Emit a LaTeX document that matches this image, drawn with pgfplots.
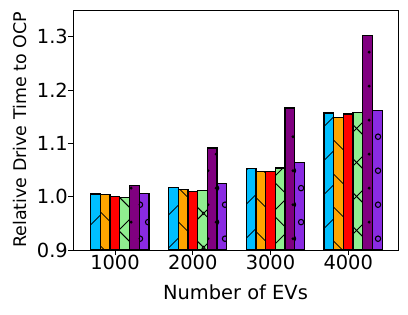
\documentclass[border=0pt]{standalone}
\usepackage{pgfplots}
\pgfplotsset{compat=1.18}
\usepackage{fontspec}
\setmainfont{DejaVu Sans}
\usetikzlibrary{patterns,patterns.meta}
\definecolor{cBlue}{RGB}{0,191,255}
\definecolor{cOrange}{RGB}{255,165,0}
\definecolor{cRed}{RGB}{255,0,0}
\definecolor{cGreen}{RGB}{144,238,144}
\definecolor{cPurple}{RGB}{128,0,128}
\definecolor{cViolet}{RGB}{138,43,226}
\tikzdeclarepattern{name=mydots, type=uncolored,
  bounding box={(0bp,0bp) and (17bp,34bp)}, tile size={(17bp,34bp)},
  code={\fill (4.25bp,8.5bp) circle (1.7bp); \fill (12.75bp,25.5bp) circle (1.7bp);}}
\tikzdeclarepattern{name=myrings, type=uncolored,
  bounding box={(0bp,0bp) and (17bp,34bp)}, tile size={(17bp,34bp)},
  code={\draw[line width=1.1bp] (4.25bp,8.5bp) circle (2.8bp); \draw[line width=1.1bp] (12.75bp,25.5bp) circle (2.8bp);}}
\tikzdeclarepattern{name=mycross, type=uncolored,
  bounding box={(0bp,0bp) and (34bp,34bp)}, tile size={(34bp,34bp)},
  code={\draw[line width=1bp] (0bp,0bp) -- (34bp,34bp); \draw[line width=1bp] (0bp,34bp) -- (34bp,0bp);
        \draw[line width=1bp] (-17bp,17bp) -- (17bp,51bp); \draw[line width=1bp] (17bp,-17bp) -- (51bp,17bp);
        \draw[line width=1bp] (-17bp,17bp) -- (17bp,-17bp); \draw[line width=1bp] (17bp,51bp) -- (51bp,17bp);}}
\begin{document}
\begin{tikzpicture}
\begin{axis}[
  at={(0,0)}, anchor=south west,
  scale only axis, width=325bp, height=240bp,
  xmin=0.46, xmax=4.64, ymin=0.9, ymax=1.35,
  ybar, bar width=0.125, bar shift=0pt,
  xtick={1,2,3,4}, xticklabels={1000,2000,3000,4000},
  ytick={0.9,1.0,1.1,1.2,1.3},
  tick align=outside, xtick pos=bottom, ytick pos=left,
  major tick length=5bp,
  every tick/.style={black, line width=0.8bp},
  axis line style={black, line width=0.8bp},
  tick label style={font=\fontsize{19.5}{23}\selectfont},
  xticklabel style={inner sep=0pt, anchor=north},
  yticklabel style={inner sep=0pt, anchor=east, /pgf/number format/.cd, fixed, fixed zerofill, precision=1, assume math mode=true},
  xlabel={Number of EVs},
  ylabel={Relative Drive Time to OCP},
  x label style={font=\fontsize{19.5}{23}\selectfont, at={(axis description cs:0.5,-0.177)}, anchor=center},
  y label style={font=\fontsize{17.5}{21}\selectfont, at={(axis description cs:-0.163,0.5)}, anchor=center},
  every axis plot/.append style={line width=1.3bp},
]
% blue
\addplot[fill=cBlue, draw=none, forget plot]
 coordinates {(0.75,1.005) (1.75,1.017) (2.75,1.053) (3.75,1.157)};
\addplot[draw=black, pattern={Lines[angle=45,distance=24bp,line width=1bp]}, pattern color=black]
 coordinates {(0.75,1.005) (1.75,1.017) (2.75,1.053) (3.75,1.157)};
% orange
\addplot[fill=cOrange, draw=none, forget plot]
 coordinates {(0.875,1.004) (1.875,1.014) (2.875,1.047) (3.875,1.149)};
\addplot[draw=black, pattern={Lines[angle=-45,distance=24bp,line width=1bp]}, pattern color=black]
 coordinates {(0.875,1.004) (1.875,1.014) (2.875,1.047) (3.875,1.149)};
% red
\addplot[fill=cRed, draw=black]
 coordinates {(1,1.000) (2,1.010) (3,1.047) (4,1.155)};
% green
\addplot[fill=cGreen, draw=none, forget plot]
 coordinates {(1.125,0.999) (2.125,1.011) (3.125,1.054) (4.125,1.158)};
\addplot[draw=black, pattern=mycross, pattern color=black]
 coordinates {(1.125,0.999) (2.125,1.011) (3.125,1.054) (4.125,1.158)};
% purple
\addplot[fill=cPurple, draw=none, forget plot]
 coordinates {(1.25,1.021) (2.25,1.091) (3.25,1.166) (4.25,1.302)};
\addplot[draw=black, pattern=mydots, pattern color=black]
 coordinates {(1.25,1.021) (2.25,1.091) (3.25,1.166) (4.25,1.302)};
% violet
\addplot[fill=cViolet, draw=none, forget plot]
 coordinates {(1.375,1.006) (2.375,1.025) (3.375,1.064) (4.375,1.162)};
\addplot[draw=black, pattern=myrings, pattern color=black]
 coordinates {(1.375,1.006) (2.375,1.025) (3.375,1.064) (4.375,1.162)};
\end{axis}
\pgfresetboundingbox
\path (-73bp,-65bp) rectangle (335bp,250bp);
\end{tikzpicture}
\end{document}
